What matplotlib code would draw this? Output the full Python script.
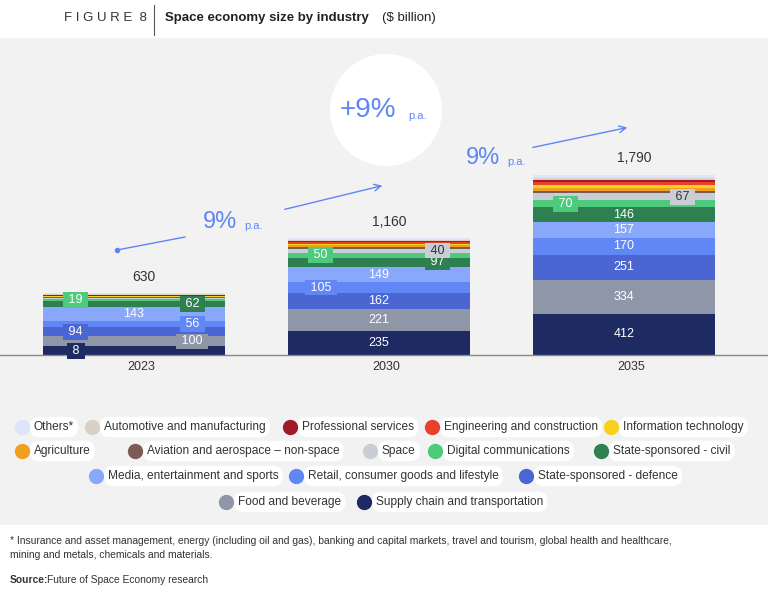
import matplotlib.pyplot as plt
from matplotlib.patches import Rectangle, Ellipse, FancyArrowPatch
import numpy as np

plt.rcParams['font.family'] = ['Liberation Sans', 'DejaVu Sans']

years = ["2023", "2030", "2035"]
industries = ["Supply chain and transportation", "Food and beverage", "State-sponsored - defence",
              "Retail, consumer goods and lifestyle", "Media, entertainment and sports",
              "State-sponsored - civil", "Digital communications", "Space",
              "Aviation and aerospace \u2013 non-space", "Agriculture", "Information technology",
              "Engineering and construction", "Professional services", "Automotive and manufacturing", "Others*"]
values = {
    "2023": [85, 100, 94, 56, 143, 62, 19, 12, 5, 5, 5, 5, 5, 8, 12],
    "2030": [235, 221, 162, 105, 149, 97, 50, 40, 15, 15, 15, 15, 15, 12, 14],
    "2035": [412, 334, 251, 170, 157, 146, 70, 67, 25, 30, 30, 25, 25, 20, 28],
}
labels = {
    "2023": ["8", "100", "94", "56", "143", "62", "19"],
    "2030": ["235", "221", "162", "105", "149", "97", "50", "40"],
    "2035": ["412", "334", "251", "170", "157", "146", "70", "67"],
}
offsets = {  # -1 left, 0 center, 1 right
    "2023": [-1, 1, -1, 1, 0, 1, -1],
    "2030": [0, 0, 0, -1, 0, 1, -1, 1],
    "2035": [0, 0, 0, 0, 0, 0, -1, 1],
}
totals = ["630", "1,160", "1,790"]
colors = ["#1e2a62", "#8e96a8", "#4b66d2", "#6087f5", "#8aa8fb", "#2e8050", "#4dca7b", "#c9cdd5",
          "#7b5b56", "#f0a01e", "#f5d21e", "#e8402a", "#9e1b2a", "#d9d1c5", "#dde4fb"]

fig = plt.figure(figsize=(7.68, 6.0), dpi=100)
fig.patch.set_facecolor("white")
fig.patches.append(Rectangle((0, 75/600), 1, 487/600, transform=fig.transFigure,
                             facecolor="#f2f2f2", edgecolor="none", zorder=-5))

ax = fig.add_axes([0, 245/600, 1, 315/600])
ax.set_facecolor("none")
ax.set_xlim(-134/245, (768-134)/245)
ax.set_ylim(0, 315/180*1790)
ax.axis("off")
w = 182/245
for i, y in enumerate(years):
    bottom = 0
    for k, v in enumerate(values[y]):
        ax.bar(i, v, w, bottom=bottom, color=colors[k], edgecolor="none")
        if k < len(labels[y]):
            off = offsets[y][k]
            xc = i + off * w * 0.32
            tc = "#333333" if k == 7 else "white"
            bb = None
            if off != 0:
                bb = dict(boxstyle="square,pad=0.15", facecolor=colors[k], edgecolor="none")
            ax.text(xc, bottom + v/2, f" {labels[y][k]} " if off else labels[y][k],
                    ha="center", va="center", fontsize=9, color=tc, bbox=bb)
        bottom += v
    ax.text(i + 0.04, bottom + 95, totals[i], ha="center", va="bottom", fontsize=10, color="#333333")
ax.plot([-0.55, 2.6], [0, 0], color="#888888", lw=1, clip_on=False)
for i, y in enumerate(years):
    ax.text(i + 0.03, -60, y, ha="center", va="top", fontsize=9, color="#333333")

def P(px, py):
    return (px/768, 1 - py/600)
blue = "#5f86f5"
fig.add_artist(plt.Line2D(*zip(P(117, 250), P(185, 237)), color=blue, lw=1, transform=fig.transFigure))
fig.add_artist(plt.Line2D([117/768], [1-250/600], marker="o", ms=3, color=blue, transform=fig.transFigure))
fig.add_artist(FancyArrowPatch(P(282, 210), P(385, 185), transform=fig.transFigure, arrowstyle="->",
                               mutation_scale=12, color=blue, lw=1))
fig.add_artist(FancyArrowPatch(P(530, 148), P(630, 127), transform=fig.transFigure, arrowstyle="->",
                               mutation_scale=12, color=blue, lw=1))
fig.text(*P(203, 222), "9%", fontsize=17, color=blue, va="center")
fig.text(*P(244, 226), "p.a.", fontsize=8, color=blue, va="center")
fig.text(*P(466, 158), "9%", fontsize=17, color=blue, va="center")
fig.text(*P(507, 162), "p.a.", fontsize=8, color=blue, va="center")
fig.patches.append(Ellipse(P(386, 110), 112/768, 112/600, transform=fig.transFigure,
                           facecolor="white", edgecolor="none"))
fig.text(*P(340, 110), "+9%", fontsize=20, color=blue, va="center")
fig.text(*P(408, 116), "p.a.", fontsize=8, color=blue, va="center")

fig.text(*P(64, 18), "F I G U R E  8", fontsize=9.5, color="#333333", va="center")
fig.add_artist(plt.Line2D(*zip(P(154, 5), P(154, 35)), color="#555555", lw=0.8, transform=fig.transFigure))
t = fig.text(*P(165, 18), "Space economy size by industry", fontsize=9.5, fontweight="bold",
             color="#222222", va="center")
fig.text(*P(382, 18), "($ billion)", fontsize=9.5, color="#222222", va="center")

leg = [
    [(22, "Others*"), (92, "Automotive and manufacturing"), (290, "Professional services"),
     (432, "Engineering and construction"), (611, "Information technology")],
    [(22, "Agriculture"), (135, "Aviation and aerospace \u2013 non-space"), (370, "Space"),
     (435, "Digital communications"), (601, "State-sponsored - civil")],
    [(96, "Media, entertainment and sports"), (296, "Retail, consumer goods and lifestyle"),
     (526, "State-sponsored - defence")],
    [(226, "Food and beverage"), (364, "Supply chain and transportation")],
]
rows_y = [427, 451, 476, 502]
for ry, row in zip(rows_y, leg):
    for mx, name in row:
        c = colors[industries.index(name)]
        fig.text(*P(mx + 12, ry), name, fontsize=8.6, color="#333333", va="center",
                 bbox=dict(boxstyle="round,pad=0.35,rounding_size=0.8", facecolor="white", edgecolor="none"))
        fig.add_artist(plt.Line2D([mx/768], [1-ry/600], marker="o", ms=10, color=c,
                                  transform=fig.transFigure, zorder=10))

fig.text(*P(10, 548), "* Insurance and asset management, energy (including oil and gas), banking and capital markets, travel and tourism, global health and healthcare,\nmining and metals, chemicals and materials.",
         fontsize=7.4, color="#333333", va="center", linespacing=1.4)
fig.text(*P(10, 580), "Source:", fontsize=7.4, fontweight="bold", color="#333333", va="center")
fig.text(*P(47, 580), "Future of Space Economy research", fontsize=7.4, color="#333333", va="center")

fig.savefig("out.png", dpi=100)
